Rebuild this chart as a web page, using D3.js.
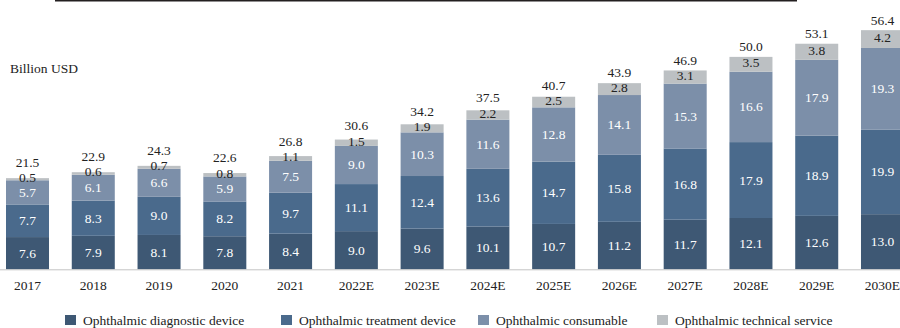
<!DOCTYPE html>
<html><head><meta charset="utf-8">
<script src="https://cdn.jsdelivr.net/npm/d3@7"></script>
</head>
<body style="margin:0"><svg id="c" width="900" height="328"></svg>
<script>
const categories = ["2017","2018","2019","2020","2021","2022E","2023E","2024E","2025E","2026E","2027E","2028E","2029E","2030E"];
const diagnostic = [7.6,7.9,8.1,7.8,8.4,9.0,9.6,10.1,10.7,11.2,11.7,12.1,12.6,13.0];
const treatment  = [7.7,8.3,9.0,8.2,9.7,11.1,12.4,13.6,14.7,15.8,16.8,17.9,18.9,19.9];
const consumable = [5.7,6.1,6.6,5.9,7.5,9.0,10.3,11.6,12.8,14.1,15.3,16.6,17.9,19.3];
const service    = [0.5,0.6,0.7,0.8,1.1,1.5,1.9,2.2,2.5,2.8,3.1,3.5,3.8,4.2];
const totals     = ["21.5","22.9","24.3","22.6","26.8","30.6","34.2","37.5","40.7","43.9","46.9","50.0","53.1","56.4"];
const seriesNames = ["Ophthalmic diagnostic device","Ophthalmic treatment device","Ophthalmic consumable","Ophthalmic technical service"];
const colors = ["#3e5874","#4a6a8c","#7c8fa9","#bcc0c3"];
const labelColors = ["#fff","#fff","#fff","#222"];
const unitLabel = "Billion USD";

const svg = d3.select("#c");
const seriesVals = [diagnostic, treatment, consumable, service];
const rows = categories.map((c,i)=>{const o={cat:c}; seriesNames.forEach((s,k)=>o[s]=seriesVals[k][i]); return o;});
const stack = d3.stack().keys(seriesNames)(rows);

const x = d3.scaleBand().domain(categories).range([6, 904]).paddingInner(0.346).paddingOuter(0);
const y = d3.scaleLinear().domain([0,60]).range([269.3, 269.3-60*4.24]);

svg.append("line").attr("x1",55).attr("x2",797).attr("y1",0.75).attr("y2",0.75)
  .attr("stroke","#231f20").attr("stroke-width",1.5);

// unit label: font shorthand
svg.append("text").attr("x",10).attr("y",72.5)
  .style("font","13.5px 'Liberation Serif'").attr("fill","#222").text(unitLabel);

stack.forEach((layer,k)=>{
  const g = svg.append("g");
  g.selectAll("rect").data(layer).enter().append("rect")
    .attr("x",d=>x(d.data.cat)).attr("width",x.bandwidth())
    .attr("y",d=>y(d[1])).attr("height",d=>y(d[0])-y(d[1]))
    .attr("fill",colors[k]);
  g.selectAll("text").data(layer).enter().append("text")
    .attr("x",d=>x(d.data.cat)+x.bandwidth()/2)
    .attr("y",d=>(y(d[0])+y(d[1]))/2 - (k===3 ? 1.5 : 0) + 4.5)
    .attr("text-anchor","middle").attr("fill",labelColors[k])
    .style("font-family","Times New Roman").style("font-size","13.5px")
    .text(d=>(d[1]-d[0]).toFixed(1));
});

const topLayer = stack[3];
svg.append("g").selectAll("text").data(topLayer).enter().append("text")
  .attr("x",d=>x(d.data.cat)+x.bandwidth()/2)
  .attr("y",d=>Math.min(y(d[1])-10,(y(d[0])+y(d[1]))/2-17) + 4.5)
  .attr("text-anchor","middle").attr("fill","#222")
  .style("font-family","Tinos").style("font-size","13.5px")
  .text((d,i)=>totals[i]);

const ax = svg.append("g").attr("transform",`translate(0,${y(0)})`)
  .call(d3.axisBottom(x).tickSize(0).tickPadding(11));
ax.attr("font-family","Liberation Serif").attr("font-size",13.5);
ax.select(".domain").remove();
ax.selectAll("text").attr("fill","#222").style("font-family","Liberation Serif");
svg.append("line").attr("x1",0).attr("x2",900).attr("y1",y(0)+0.5).attr("y2",y(0)+0.5)
  .attr("stroke","#c4c4c4").attr("stroke-width",1);

const legX = [65,281,478,657];
const leg = svg.append("g");
seriesNames.forEach((s,k)=>{
  leg.append("rect").attr("x",legX[k]).attr("y",315).attr("width",11).attr("height",10).attr("fill",colors[k]);
  leg.append("text").attr("x",legX[k]+18).attr("y",324.5)
    .style("font-family",'"Liberation Serif", serif').style("font-size","13.5px")
    .attr("fill","#222").text(s);
});
</script></body></html>
